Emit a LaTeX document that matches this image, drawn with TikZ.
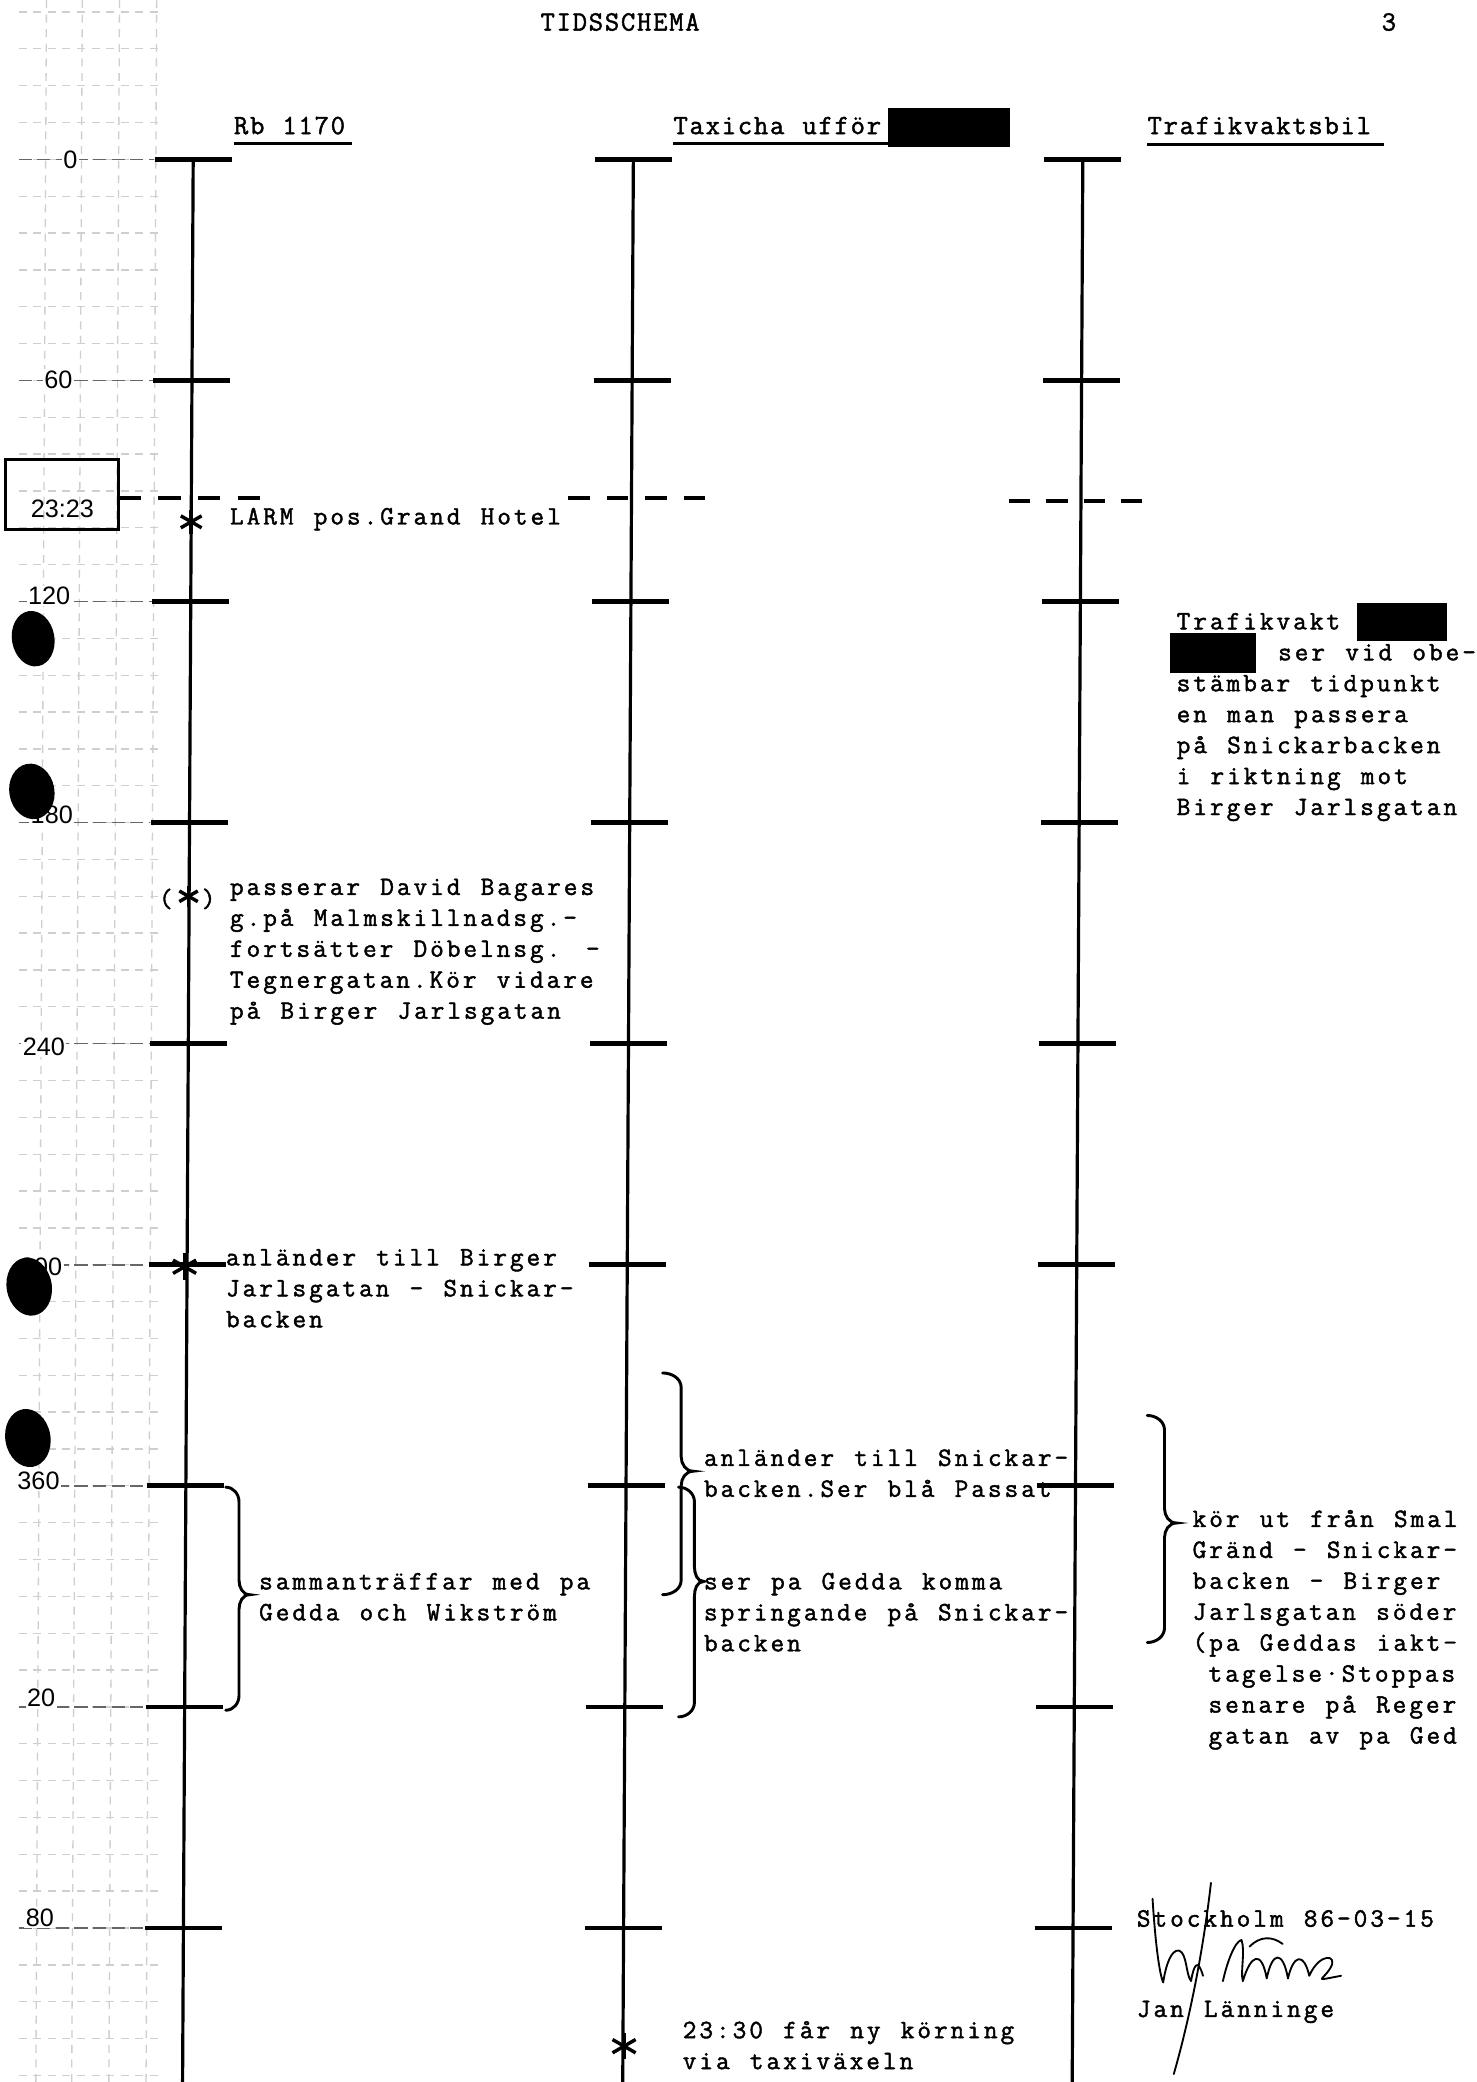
\documentclass[tikz,border=0pt]{standalone}
\usepackage{fontspec}
\newfontfamily\twfont{Latin Modern Mono}[LetterSpace=11.15,WordSpace=1.212,FakeBold=1.6]
\newfontfamily\hdfont{Latin Modern Mono}[LetterSpace=6.2,WordSpace=1.12,FakeBold=1.6]
\newfontfamily\rufont{Liberation Sans}
\newcommand\tblk[1]{\begin{tabular}[t]{@{}l@{}}#1\end{tabular}}
\newcommand\astx[2]{%
  \draw[ast] (#1) ++(0,-#2) -- ++(0,{2*#2});
  \draw[ast] (#1) ++({-0.87*#2},{-0.5*#2}) -- ++({1.74*#2},{#2});
  \draw[ast] (#1) ++({-0.87*#2},{0.5*#2}) -- ++({1.74*#2},{-#2});}
\newcommand\curly[6]{%
  \draw[brace] (#1,#4) to[out=0,in=90] (#2,{#4+11}) -- (#2,{#5-11})
    to[out=-90,in=180] (#3,#5) to[out=180,in=90] (#2,{#5+11}) -- (#2,{#6-11})
    to[out=-90,in=0] (#1,#6);}
\begin{document}
\begin{tikzpicture}[x=1pt,y=-1pt,
  col/.style={line width=2.4pt},
  tickmark/.style={line width=3.6pt},
  brace/.style={line width=2.2pt,line cap=round},
  dashl/.style={line width=3pt,dash pattern=on 17pt off 13pt},
  txt/.style={font={\twfont\fontsize{20}{23.3}\selectfont},anchor=base west,inner sep=0pt},
  hdr/.style={font={\hdfont\fontsize{21}{24}\selectfont},anchor=base west,inner sep=0pt},
  rul/.style={font={\rufont\fontsize{19}{22}\selectfont},inner sep=1pt,fill=white},
  gridl/.style={gray!38,line width=1pt,dash pattern=on 6pt off 5pt},
  hourl/.style={gray!80!black,line width=1.2pt,dash pattern=on 10pt off 4pt},
  uline/.style={line width=2.5pt},
  ast/.style={line width=2.6pt},
  sig/.style={line width=1.4pt,line cap=round,line join=round}]
\useasboundingbox (0,0) rectangle (1112,1568);
\fill[white] (0,0) rectangle (1112,1568);

% ---- graph paper ruler on the left
\foreach \k in {0,...,56} \draw[gridl] (14,{9+27.75*\k}) -- (120,{9+27.75*\k});
\foreach \x in {35,62,90,118} \draw[gridl] (\x,0) -- ({\x-8},1568);
\foreach \i in {0,...,8} \draw[hourl] (14,{120+166.5*\i}) -- ({116-0.92*\i},{120+166.5*\i});

% ---- header
\node[hdr,anchor=base] (title) at (467,23) {TIDSSCHEMA};
\node[hdr,anchor=base] (page) at (1046,23) {3};
\node[hdr] (hrb) at (176,101) {Rb 1170};
\node[hdr] (htx) at (507,101) {Taxicha ufför};
\node[hdr] (htv) at (864,101) {Trafikvaktsbil};
\draw[uline] (176,108) -- (265,108);
\draw[uline] (507,108) -- (669,108);
\draw[uline] (864,109) -- (1042,109);
\fill (669,81) rectangle (761,111);

% ---- time columns
\coordinate (rbT) at (145.5,120); \coordinate (rbB) at (137.5,1568);
\coordinate (txT) at (477,120);   \coordinate (txB) at (469,1568);
\coordinate (tvT) at (815.5,120); \coordinate (tvB) at (807.5,1568);
\draw[col] (rbT) -- (rbB);
\draw[col] (txT) -- (txB);
\draw[col] (tvT) -- (tvB);
\foreach \i in {0,...,8} {
  \draw[tickmark] ({145.5-0.92*\i-29},{120+166.5*\i}) -- ++(58,0);
  \draw[tickmark] ({477-0.92*\i-29},{120+166.5*\i}) -- ++(58,0);
  \draw[tickmark] ({815.5-0.92*\i-29},{120+166.5*\i}) -- ++(58,0);
}

% ---- ruler labels
\node[rul] (l0) at (53,120) {0};
\node[rul] (l60) at (44,286) {60};
\node[rul] (l120) at (37,449) {120};
\node[rul] (l180) at (39,614) {180};
\node[rul] (l240) at (33,788) {240};
\node[rul] (l300) at (31,954) {300};
\node[rul] (l360) at (29,1115) {360};
\node[rul] (l420) at (31,1279) {20};
\node[rul] (l480) at (30,1444) {80};

% ---- hole punches
\fill[rotate around={10:(25,481)}] (25,481) ellipse [x radius=16,y radius=21];
\fill[rotate around={10:(24,596)}] (24,596) ellipse [x radius=17,y radius=21];
\fill[rotate around={10:(22,969)}] (22,969) ellipse [x radius=17,y radius=22];
\fill[rotate around={10:(21,1083)}] (21,1083) ellipse [x radius=17,y radius=22];

% ---- 23:23 alarm
\draw[line width=2.5pt] (4,346) rectangle (89,399);
\node[rul,fill=none,anchor=base] (t2323) at (47,390) {23:23};
\draw[dashl] (89,375) -- (200,375);
\draw[dashl,dash pattern=on 16pt off 13pt] (428,375) -- (531,375);
\draw[dashl,dash pattern=on 16pt off 12pt] (760,377) -- (860,377);

% ---- Rb 1170 column
\coordinate (s1) at (144,393); \astx{s1}{9}
\node[txt] (larm) at (173,395) {LARM pos.Grand Hotel};
\coordinate (s2) at (142,675); \astx{s2}{8}
\node[txt,anchor=center] (par) at (141,677) {(\hspace*{22pt})};
\node[txt] (pass) at (173,674) {\tblk{passerar David Bagares\\ g.på Malmskillnadsg.-\\ fortsätter Döbelnsg. -\\ Tegnergatan.Kör vidare\\ på Birger Jarlsgatan}};
\coordinate (s3) at (139,954); \astx{s3}{10}
\node[txt] (anl) at (170,953) {\tblk{anländer till Birger\\ Jarlsgatan - Snickar-\\ backen}};
\curly{170}{180}{188}{1120}{1201}{1288}
\node[txt] (samm) at (195,1197) {\tblk{sammanträffar med pa\\ Gedda och Wikström}};

% ---- Taxi column
\curly{499}{513}{522}{1034}{1108}{1201}
\curly{511}{523}{530}{1120}{1191}{1293}
\node[txt] (snick) at (530,1104) {\tblk{anländer till Snickar-\\ backen.Ser blå Passat}};
\node[txt] (gedda) at (530,1197) {\tblk{ser pa Gedda komma\\ springande på Snickar-\\ backen}};
\coordinate (s4) at (470,1541); \astx{s4}{10}
\node[txt] (ny) at (514,1535) {\tblk{23:30 får ny körning\\ via taxiväxeln}};

% ---- Trafikvakt column
\node[txt] (vakt) at (886,474) {\tblk{Trafikvakt\\ \hspace*{76.4pt}ser vid obe-\\ stämbar tidpunkt\\ en man passera\\ på Snickarbacken\\ i riktning mot\\ Birger Jarlsgatan}};
\fill (1022,454) rectangle (1090,483);
\fill (881,477) rectangle (946,507);
\curly{864}{877}{886}{1066}{1147}{1237}
\node[txt] (kor) at (898,1150) {\tblk{kör ut från Smal\\ Gränd - Snickar-\\ backen - Birger\\ Jarlsgatan söder\\ (pa Geddas iakt-\\ \hspace*{12pt}tagelse·Stoppas\\ \hspace*{12pt}senare på Reger\\ \hspace*{12pt}gatan av pa Ged}};

% ---- signature
\node[txt] (sthlm) at (856,1451) {Stockholm 86-03-15};
\node[txt] (jan) at (856,1519) {Jan Länninge};
\draw[sig] (912,1418) .. controls (906,1470) and (896,1520) .. (884,1562);
\draw[sig] (868,1430) .. controls (870,1462) and (873,1486) .. (876,1493)
  .. controls (878,1480) and (882,1468) .. (888,1469)
  .. controls (894,1471) and (893,1487) .. (897,1492)
  .. controls (899,1480) and (902,1474) .. (906,1488);
\draw[sig] (921,1492) .. controls (924,1478) and (930,1462) .. (935,1461)
  .. controls (938,1470) and (934,1485) .. (936,1492)
  .. controls (942,1472) and (950,1468) .. (954,1490)
  .. controls (958,1470) and (966,1468) .. (970,1490)
  .. controls (974,1472) and (982,1470) .. (986,1488)
  .. controls (994,1470) and (1008,1472) .. (1002,1482)
  .. controls (996,1492) and (988,1492) .. (1010,1488);
\draw[sig] (941,1466) .. controls (949,1458) and (958,1458) .. (966,1464);
\end{tikzpicture}
\end{document}
